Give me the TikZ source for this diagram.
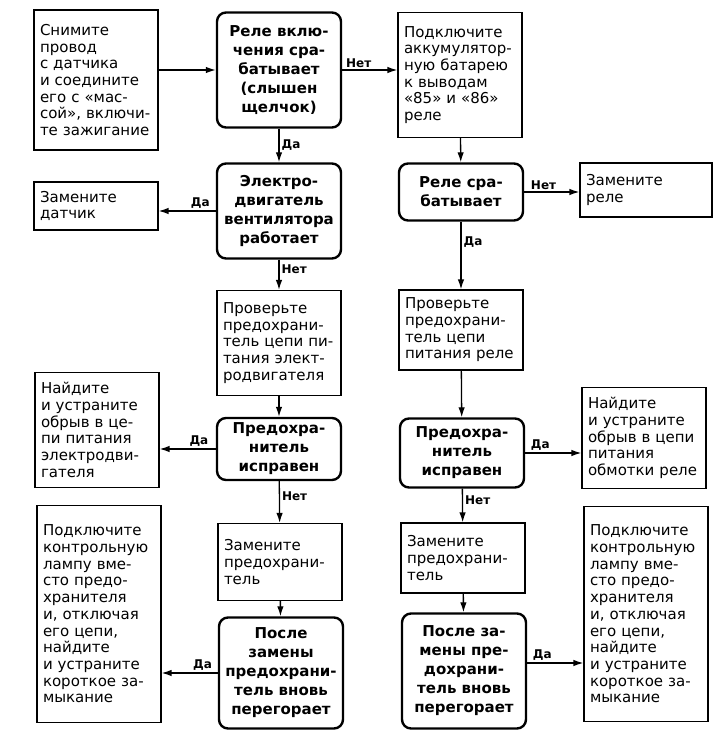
\documentclass[tikz,border=0pt]{standalone}
\usepackage{fontspec}
\setmainfont{DejaVu Sans}
\usetikzlibrary{arrows.meta}

\begin{document}
\begin{tikzpicture}[x=1pt,y=-1pt,
	act/.style={draw, line width=1.2pt, inner xsep=6pt, text width=112pt, align=left,
		font=\fontsize{15}{16.7}\selectfont},
	ask/.style={draw, line width=2.4pt, rounded corners=9pt, minimum width=124pt,
		align=center, font=\fontsize{15}{19}\selectfont\bfseries},
	lab/.style={font=\fontsize{12}{13}\selectfont\bfseries, inner sep=2pt},
	arr/.style={-{Latex[length=10pt,width=6.5pt]}, line width=1.3pt}]
	
	\useasboundingbox (0,0) rectangle (725,731);
	
	% left column of actions
	\node[act, minimum height=140pt] (wire) at (96,80)
	{Снимите\\провод\\с датчика\\и соедините\\его с «мас-\\сой», включи-\\те зажигание};
	\node[act, minimum height=48pt] (sensor) at (96,206) {Замените\\датчик};
	\node[act, minimum height=115pt] (breakM) at (97,430)
	{Найдите\\и устраните\\обрыв в це-\\пи питания\\электродви-\\гателя};
	\node[act, minimum height=217pt] (lampM) at (99,614)
	{Подключите\\контрольную\\лампу вме-\\сто предо-\\хранителя\\и, отключая\\его цепи,\\найдите\\и устраните\\короткое за-\\мыкание};
	
	% middle left column
	\node[ask, minimum height=115pt] (click) at (279,70)
	{Реле вклю-\\чения сра-\\батывает\\(слышен\\щелчок)};
	\node[ask, minimum height=95pt] (motor) at (279,211)
	{Электро-\\двигатель\\вентилятора\\работает};
	\node[act, minimum height=105pt] (checkM) at (279,343)
	{Проверьте\\предохрани-\\тель цепи пи-\\тания элект-\\родвигателя};
	\node[ask, minimum height=62pt] (fuseM) at (279,449)
	{Предохра-\\нитель\\исправен};
	\node[act, minimum height=77pt] (swapM) at (280,562)
	{Замените\\предохрани-\\тель};
	\node[ask, minimum height=111pt] (againM) at (281,673)
	{После\\замены\\предохрани-\\тель вновь\\перегорает};
	
	% middle right column
	\node[act, minimum height=125pt] (battery) at (460,75)
	{Подключите\\аккумулятор-\\ную батарею\\к выводам\\«85» и «86»\\реле};
	\node[ask, minimum height=57pt] (relay) at (461,192)
	{Реле сра-\\батывает};
	\node[act, minimum height=80pt] (checkR) at (461,330)
	{Проверьте\\предохрани-\\тель цепи\\питания реле};
	\node[ask, minimum height=69pt] (fuseR) at (462,453)
	{Предохра-\\нитель\\исправен};
	\node[act, minimum height=70pt] (swapR) at (463,558)
	{Замените\\предохрани-\\тель};
	\node[ask, minimum height=115pt] (againR) at (464,671)
	{После за-\\мены пре-\\дохрани-\\тель вновь\\перегорает};
	
	% right column of actions
	\node[act, text width=120pt, minimum height=54pt] (relayNew) at (646,190)
	{Замените\\реле};
	\node[act, minimum height=101pt] (breakR) at (644,438)
	{Найдите\\и устраните\\обрыв в цепи\\питания\\обмотки реле};
	\node[act, minimum height=215pt] (lampR) at (646,614)
	{Подключите\\контрольную\\лампу вме-\\сто предо-\\хранителя\\и, отключая\\его цепи,\\найдите\\и устраните\\короткое за-\\мыкание};
	
	% connectors
	\draw[arr] (wire.east |- click) -- (click);
	\draw[arr] (click) -- (click -| battery.west) node[lab, above, pos=0.3] {Нет};
	\draw[arr] (click) -- (motor) node[lab, right, midway] {Да};
	\draw[arr] (motor) -- (motor -| sensor.east) node[lab, above, pos=0.27] {Да};
	\draw[arr] (motor) -- (checkM) node[lab, right, pos=0.3] {Нет};
	\draw[arr] (checkM) -- (fuseM);
	\draw[arr] (fuseM) -- (fuseM -| breakM.east) node[lab, above, pos=0.3] {Да};
	\draw[arr] (fuseM) -- (swapM) node[lab, right, pos=0.35] {Нет};
	\draw[arr] (swapM) -- (againM);
	\draw[arr] (againM) -- (againM -| lampM.east) node[lab, above, pos=0.27] {Да};
	
	\draw[arr] (battery) -- (relay);
	\draw[arr] (relay) -- (relay -| relayNew.west) node[lab, above, pos=0.35] {Нет};
	\draw[arr] (relay) -- (checkR) node[lab, right, pos=0.3] {Да};
	\draw[arr] (checkR) -- (fuseR);
	\draw[arr] (fuseR) -- (fuseR -| breakR.west) node[lab, above, pos=0.27] {Да};
	\draw[arr] (fuseR) -- (swapR) node[lab, right, pos=0.35] {Нет};
	\draw[arr] (swapR) -- (againR);
	\draw[arr] (againR.east |- 0,663) -- (lampR.west |- 0,663) node[lab, above, pos=0.27] {Да};
	
\end{tikzpicture}
\end{document}
